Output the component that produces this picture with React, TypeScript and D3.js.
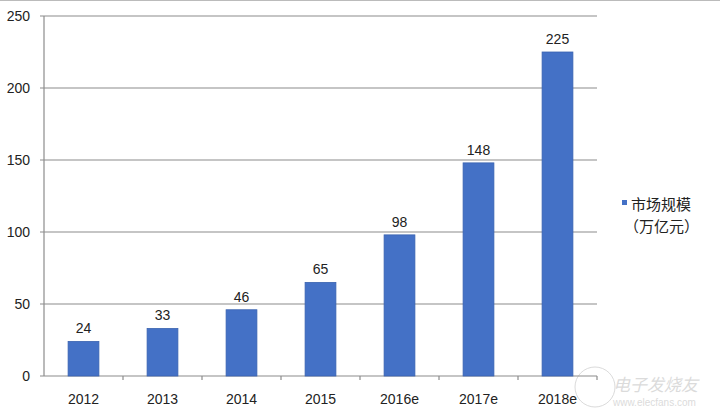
import React from "react";
import * as d3 from "d3";

const categories = ["2012", "2013", "2014", "2015", "2016e", "2017e", "2018e"];
const values = [24, 33, 46, 65, 98, 148, 225];
const yTicks = [0, 50, 100, 150, 200, 250];
const legendLines = ["市场规模", "（万亿元）"];

export default function App() {
  const W = 720, H = 414;
  const left = 44, right = 597, top = 16, bottom = 376;
  const x = d3.scaleBand<string>().domain(categories).range([left, right]).paddingInner(0.61).paddingOuter(0.305);
  const xb = d3.scaleBand<string>().domain(categories).range([left, right]);
  const y = d3.scaleLinear().domain([0, 250]).range([bottom, top]);
  const font = "Arial, 'Liberation Sans', sans-serif";
  return (
    <svg width={W} height={H} style={{ position: "absolute", left: 0, top: 0, background: "#fff" }}>
      <line x1={0} x2={W} y1={0.5} y2={0.5} stroke="#bbb" />
      {yTicks.map((t) => (
        <g key={t}>
          <line x1={left - 4} x2={t === 0 ? right : right} y1={y(t)} y2={y(t)} stroke="#8c8c8c" strokeWidth={1.2} />
          <text x={30} y={y(t)} dy="0.35em" textAnchor="end" fontFamily={font} fontSize={14} fill="#222">{t}</text>
        </g>
      ))}
      <line x1={left} x2={left} y1={top} y2={bottom} stroke="#8c8c8c" strokeWidth={1.2} />
      {categories.map((c, i) => (
        <line key={"t" + c} x1={(xb(c) as number) + xb.bandwidth()} x2={(xb(c) as number) + xb.bandwidth()} y1={bottom} y2={bottom + 4} stroke="#8c8c8c" strokeWidth={1.2} />
      ))}
      {categories.map((c, i) => (
        <g key={c}>
          <rect x={x(c)} y={y(values[i])} width={x.bandwidth()} height={bottom - y(values[i])} fill="#4471c6" stroke="#3a63b0" strokeWidth={0.8} />
          <text x={(x(c) as number) + x.bandwidth() / 2} y={y(values[i]) - 8} textAnchor="middle" fontFamily={font} fontSize={14} fill="#222">{values[i]}</text>
          <text x={(xb(c) as number) + xb.bandwidth() / 2} y={bottom + 23} dy="0.35em" textAnchor="middle" fontFamily={font} fontSize={14} fill="#222">{c}</text>
        </g>
      ))}
      <rect x={622} y={200} width={5} height={5} fill="#4471c6" />
      <text x={631} y={210} fontFamily="'Noto Sans CJK SC', sans-serif" fontSize={15} fill="#222">{legendLines[0]}</text>
      <text x={624} y={232} fontFamily="'Noto Sans CJK SC', sans-serif" fontSize={15} fill="#222">{legendLines[1]}</text>
      <g opacity={0.35}>
        <circle cx={595} cy={387} r={20} fill="none" stroke="#999" strokeWidth={1} />
        <text x={613} y={391} fontFamily="'Noto Sans CJK SC', sans-serif" fontSize={17} fontStyle="italic" fill="#999">电子发烧友</text>
        <text x={613} y={406} fontFamily={font} fontSize={10} fill="#999">www.elecfans.com</text>
      </g>
    </svg>
  );
}
